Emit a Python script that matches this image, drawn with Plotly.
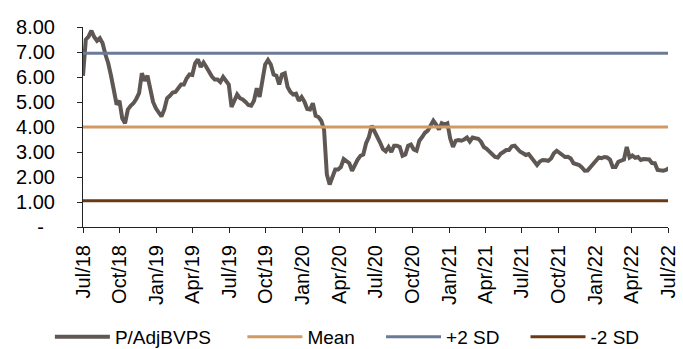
import pandas as pd
import plotly.graph_objects as go

# Weekly P/AdjBVPS readings, starting 2018-07-01
start_date = "2018-07-01"
end_date = "2022-07-01"
pbv = [
    6.05, 7.50, 7.62, 7.85, 7.60, 7.45, 7.55, 7.35, 6.90, 6.55,
    6.05, 5.45, 4.90, 5.05, 4.35, 4.15, 4.70, 4.85, 4.95, 5.12,
    5.35, 6.15, 5.85, 6.05, 5.60, 5.00, 4.75, 4.60, 4.42, 4.70,
    5.15, 5.25, 5.38, 5.40, 5.55, 5.70, 5.70, 5.95, 6.10, 6.08,
    6.55, 6.70, 6.40, 6.58, 6.40, 6.20, 6.02, 5.90, 5.90, 5.80,
    6.00, 5.85, 5.70, 4.80, 5.05, 5.30, 5.15, 5.10, 5.00, 4.88,
    4.85, 5.05, 5.55, 5.20, 5.85, 6.50, 6.68, 6.50, 6.10, 6.05,
    5.70, 6.10, 6.15, 5.60, 5.40, 5.30, 5.33, 5.05, 5.20, 5.01,
    4.72, 4.70, 4.95, 4.45, 4.40, 4.25, 3.90, 2.10, 1.70, 2.00,
    2.30, 2.30, 2.40, 2.72, 2.65, 2.55, 2.25, 2.50, 2.70, 2.85,
    2.90, 3.35, 3.60, 4.05, 3.85, 3.60, 3.38, 3.12, 3.03, 3.20,
    3.00, 3.25, 3.25, 3.20, 2.85, 2.90, 3.25, 3.30, 3.10, 3.05,
    3.45, 3.60, 3.77, 3.85, 4.05, 4.25, 4.10, 3.90, 4.15, 4.10,
    4.15, 3.55, 3.20, 3.45, 3.48, 3.45, 3.50, 3.58, 3.42, 3.58,
    3.55, 3.53, 3.41, 3.20, 3.13, 3.00, 2.92, 2.80, 2.78, 2.93,
    3.00, 3.08, 3.08, 3.23, 3.25, 3.10, 3.01, 2.95, 2.88, 2.92,
    2.78, 2.68, 2.48, 2.62, 2.68, 2.67, 2.65, 2.74, 2.95, 3.05,
    2.95, 2.88, 2.80, 2.81, 2.74, 2.55, 2.52, 2.48, 2.38, 2.25,
    2.26, 2.40, 2.50, 2.64, 2.78, 2.75, 2.80, 2.78, 2.70, 2.40,
    2.40, 2.61, 2.67, 2.70, 3.20, 2.78, 2.86, 2.77, 2.80, 2.68,
    2.72, 2.72, 2.70, 2.56, 2.55, 2.28, 2.26, 2.25, 2.28, 2.35,
]
dates = pd.date_range(start=start_date, periods=len(pbv), freq="7D")

mean_val = [4.00, 4.00]
plus2sd = [6.95, 6.95]
minus2sd = [1.05, 1.05]
band_dates = [start_date, end_date]

tick_dates = ["2018-07-01", "2018-10-01", "2019-01-01", "2019-04-01", "2019-07-01",
              "2019-10-01", "2020-01-01", "2020-04-01", "2020-07-01", "2020-10-01",
              "2021-01-01", "2021-04-01", "2021-07-01", "2021-10-01", "2022-01-01",
              "2022-04-01", "2022-07-01"]
tick_labels = ["Jul/18", "Oct/18", "Jan/19", "Apr/19", "Jul/19", "Oct/19", "Jan/20",
               "Apr/20", "Jul/20", "Oct/20", "Jan/21", "Apr/21", "Jul/21", "Oct/21",
               "Jan/22", "Apr/22", "Jul/22"]
y_ticks = [0, 1, 2, 3, 4, 5, 6, 7, 8]
y_labels = ["-\u00a0\u00a0", "1.00", "2.00", "3.00", "4.00", "5.00", "6.00", "7.00", "8.00"]

series_names = ["P/AdjBVPS", "Mean", "+2 SD", "-2 SD"]
pad = "\u00a0"

FONT = "Liberation Sans, Arial, sans-serif"

fig = go.Figure()
fig.add_trace(go.Scatter(x=dates, y=pbv, mode="lines", name=series_names[0] + pad * 5,
                         line=dict(color="#5e5753", width=4)))
fig.add_trace(go.Scatter(x=band_dates, y=mean_val, mode="lines", name=series_names[1] + pad * 4,
                         line=dict(color="#d29a62", width=3)))
fig.add_trace(go.Scatter(x=band_dates, y=plus2sd, mode="lines", name=series_names[2] + pad * 4,
                         line=dict(color="#6b7b95", width=3)))
fig.add_trace(go.Scatter(x=band_dates, y=minus2sd, mode="lines", name=series_names[3],
                         line=dict(color="#6b3a12", width=3)))

fig.update_layout(
    width=683, height=349,
    margin=dict(l=83, r=15, t=27, b=122, autoexpand=False),
    paper_bgcolor="white", plot_bgcolor="white",
    font=dict(family=FONT, size=20, color="black"),
    showlegend=True,
    legend=dict(orientation="h", x=-0.0566, xanchor="left", y=-0.55, yanchor="middle",
                font=dict(size=19), itemwidth=55, tracegroupgap=0,
                bgcolor="rgba(0,0,0,0)"),
)
fig.update_xaxes(type="date", range=[start_date, end_date],
                 tickvals=tick_dates, ticktext=tick_labels, tickangle=-90,
                 showline=True, linecolor="#222", linewidth=1,
                 ticks="outside", ticklen=5, tickcolor="#222",
                 showgrid=False, zeroline=False, ticklabelstandoff=4, automargin=False)
fig.update_yaxes(range=[0, 8], tickvals=y_ticks, ticktext=y_labels,
                 showline=True, linecolor="#222", linewidth=1,
                 ticks="outside", ticklen=5, tickcolor="#222",
                 showgrid=False, zeroline=False, ticklabelstandoff=18, automargin=False)

fig.write_html("out.html")
